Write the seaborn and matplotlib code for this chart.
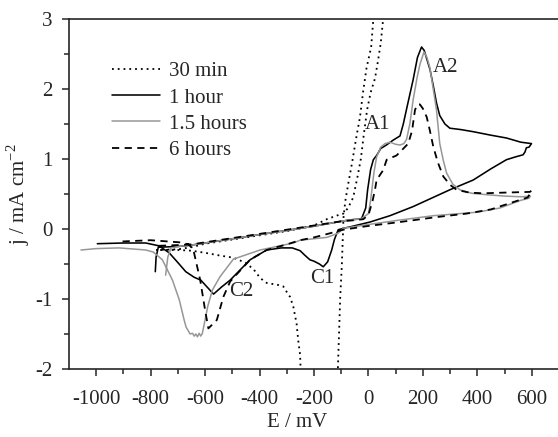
import numpy as np
import pandas as pd
import seaborn as sns
import matplotlib.pyplot as plt

# (E in mV, j in mA cm-2)
e_30min = [-780, -700, -650, -600, -500, -400, -300, -200, -153, -110, -92, -75, -56, -40, -28,
           -17, -5, 8, 24, 35, 45, 54, 62, 70,
           30, 18, 10, -7, -20, -31, -45, -60, -74, -85, -92, -93, -98, -104, -108, -112, -114,
           -246, -251, -258, -264, -276, -288, -300, -313, -331, -374, -398, -417, -447, -496, -545,
           -600, -650, -700, -780]
j_30min = [-0.30, -0.29, -0.26, -0.21, -0.15, -0.09, -0.03, 0.05, 0.14, 0.20, 0.22, 0.30, 0.45, 0.75, 1.00,
           1.35, 1.70, 1.95, 2.15, 2.40, 2.65, 3.00, 3.40, 3.80,
           3.80, 3.00, 2.60, 2.30, 1.95, 1.60, 1.30, 0.95, 0.65, 0.40, 0.15, 0.00, -0.54, -1.00, -1.50, -1.95, -2.40,
           -2.40, -1.80, -1.59, -1.35, -1.11, -0.97, -0.90, -0.82, -0.80, -0.77, -0.70, -0.60, -0.49, -0.41, -0.38,
           -0.34, -0.31, -0.30, -0.30]

e_1h = [-783, -780, -772, -700, -650, -600, -500, -400, -300, -200, -100, -68, -40, -25, -10, -3, 8, 18,
        30, 45, 66, 91, 116, 128, 145, 164, 180, 195, 205, 215, 226, 238, 250, 262, 281, 299, 340, 385,
        450, 507, 560, 599, 590, 580, 575, 568, 540, 507, 450, 385, 299, 164, 79, 6, -68, -80, -111,
        -125, -135, -150, -166, -180, -200, -215, -235, -251, -280, -320, -374, -435, -508, -540, -569,
        -590, -616, -640, -671, -700, -732, -770, -818, -900, -996]
j_1h = [-0.61, -0.40, -0.26, -0.25, -0.23, -0.20, -0.14, -0.08, -0.02, 0.04, 0.11, 0.13, 0.14, 0.15, 0.30,
        0.56, 0.85, 0.99, 1.05, 1.15, 1.20, 1.27, 1.33, 1.50, 1.80, 2.13, 2.45, 2.60, 2.55, 2.42, 2.28, 2.05,
        1.80, 1.62, 1.50, 1.44, 1.42, 1.39, 1.34, 1.30, 1.24, 1.22, 1.17, 1.16, 1.10, 1.06, 1.03, 0.99, 0.86,
        0.70, 0.56, 0.32, 0.19, 0.10, 0.03, 0.02, -0.01, -0.15, -0.30, -0.47, -0.54, -0.50, -0.46, -0.44,
        -0.37, -0.31, -0.27, -0.27, -0.30, -0.44, -0.73, -0.83, -0.93, -0.84, -0.73, -0.69, -0.61, -0.48,
        -0.34, -0.24, -0.20, -0.20, -0.21]

e_15h = [-745, -737, -725, -700, -650, -600, -500, -400, -300, -200, -100, -68, -40, -25, 0, 8, 20, 30,
         45, 61, 79, 100, 116, 130, 140, 152, 164, 178, 189, 204, 215, 226, 238, 250, 262, 275, 287, 310,
         336, 380, 434, 500, 562, 595, 590, 560, 483, 400, 238, 100, -7, -92, -111, -153, -251, -276, -398,
         -496, -545, -573, -590, -610, -616, -622, -628, -634, -640, -646, -655, -670, -677, -695, -720,
         -757, -790, -818, -916, -1000, -1056]
j_15h = [-0.66, -0.40, -0.27, -0.25, -0.23, -0.20, -0.14, -0.08, -0.02, 0.04, 0.11, 0.13, 0.14, 0.15, 0.22,
         0.41, 0.80, 1.03, 1.17, 1.22, 1.24, 1.21, 1.20, 1.22, 1.28, 1.50, 1.84, 2.15, 2.35, 2.53, 2.45, 2.30,
         2.00, 1.70, 1.22, 0.98, 0.80, 0.64, 0.56, 0.51, 0.49, 0.47, 0.46, 0.47, 0.44, 0.41, 0.30, 0.24, 0.19,
         0.12, 0.06, 0.01, -0.06, -0.12, -0.16, -0.20, -0.30, -0.43, -0.68, -0.87, -1.10, -1.49, -1.53, -1.49,
         -1.54, -1.50, -1.53, -1.49, -1.50, -1.40, -1.30, -1.01, -0.73, -0.44, -0.33, -0.30, -0.27, -0.28, -0.30]

e_6h = [-770, -700, -650, -600, -500, -400, -300, -200, -100, -68, -40, -19, 0, 15, 24, 30, 54, 67, 103,
        116, 146, 160, 171, 180, 189, 200, 214, 226, 238, 255, 275, 300, 324, 370, 421, 500, 593, 600, 585,
        544, 450, 360, 250, 116, -7, -92, -150, -200, -251, -300, -374, -435, -508, -533, -557, -588, -600,
        -618, -643, -660, -695, -800, -916]
j_6h = [-0.24, -0.23, -0.22, -0.19, -0.13, -0.07, -0.01, 0.05, 0.11, 0.12, 0.13, 0.14, 0.20, 0.40, 0.56,
        0.70, 0.84, 0.99, 1.05, 1.10, 1.22, 1.40, 1.70, 1.78, 1.78, 1.72, 1.60, 1.40, 1.18, 0.95, 0.75, 0.63,
        0.56, 0.52, 0.51, 0.52, 0.53, 0.55, 0.45, 0.40, 0.28, 0.22, 0.17, 0.10, 0.04, -0.01, -0.07, -0.12,
        -0.16, -0.22, -0.30, -0.44, -0.75, -0.97, -1.30, -1.42, -1.16, -0.73, -0.30, -0.22, -0.19, -0.16, -0.18]

peak_names = ["A1", "A2", "C1", "C2"]
peak_e = [35, 283, -169, -467]
peak_j = [1.49, 2.30, -0.71, -0.90]

sns.set_style("ticks")
plt.rcParams['font.family'] = ['Liberation Serif', 'DejaVu Serif']
plt.rcParams['mathtext.fontset'] = 'custom'
plt.rcParams['mathtext.rm'] = 'Liberation Serif'
plt.rcParams['axes.unicode_minus'] = False

fig = plt.figure(figsize=(5.58, 4.37), dpi=100)
ax = fig.add_axes([69 / 558, 68 / 437, 490 / 558, 350 / 437])

curves = [
    ("30 min", e_30min, j_30min, "black", (0, (1, 2.2)), 1.3),
    ("1 hour", e_1h, j_1h, "black", "-", 1.15),
    ("1.5 hours", e_15h, j_15h, "#979797", "-", 1.1),
    ("6 hours", e_6h, j_6h, "black", (0, (4, 3)), 1.3),
]
for name, e, j, col, ls, lw in curves:
    df = pd.DataFrame({"E": e, "j": j})
    sns.lineplot(data=df, x="E", y="j", sort=False, estimator=None, color=col,
                 linestyle=ls, linewidth=lw, label=name, ax=ax)

for name, e, j in zip(peak_names, peak_e, peak_j):
    ax.text(e, j, name, fontsize=15, ha="center", va="center")

ax.set_xlim(-1100, 700)
ax.set_ylim(-2, 3)
ax.set_xticks(np.arange(-1000, 601, 200))
ax.set_xticks(np.arange(-1000, 601, 100), minor=True)
ax.set_yticks(np.arange(-2, 3.1, 1))
ax.set_yticks(np.arange(-2, 3.1, 0.5), minor=True)
ax.tick_params(which="major", length=5, width=1.1, labelsize=15)
ax.tick_params(axis="x", which="major", pad=10)
ax.tick_params(axis="y", which="major", pad=7)
ax.tick_params(which="minor", length=3.5, width=1.1)
for s in ax.spines.values():
    s.set_linewidth(1.2)

ax.set_xlabel("E / mV", fontsize=15)
ax.set_ylabel("j / mA cm$^{-2}$", fontsize=15)
ax.xaxis.set_label_coords(0.466, -0.125)
ax.yaxis.set_label_coords(-0.076, 0.5)

ax.legend(loc="upper left", bbox_to_anchor=(0.088, 0.878), frameon=False, fontsize=15,
          handlelength=2.3, handletextpad=0.45, labelspacing=0.32, borderpad=0, borderaxespad=0)

fig.savefig("out.png", dpi=100)
